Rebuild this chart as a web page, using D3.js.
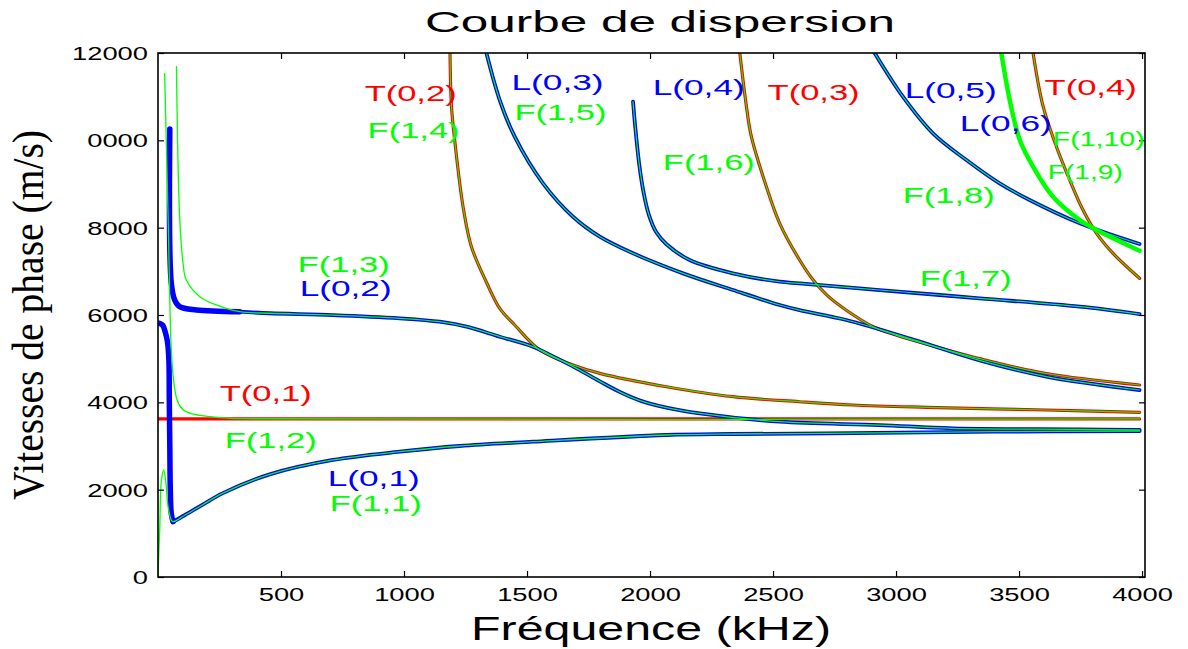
<!DOCTYPE html>
<html>
<head>
<meta charset="utf-8">
<script src="https://cdn.jsdelivr.net/npm/d3@7"></script>
<style>
  body { margin: 0; background: #fff; }
  svg { display: block; }
</style>
</head>
<body>
<svg id="chart"></svg>
<script>
// ---- data (frequency kHz, phase velocity m/s) ----
const xTicks = [500, 1000, 1500, 2000, 2500, 3000, 3500, 4000];
const yTicks = [0, 2000, 4000, 6000, 8000, 10000, 12000];
const yTickLabels = ["0", "2000", "4000", "6000", "8000", "0000", "12000"];

// T(0,1) and F(1,2)
const T01 = [[0, 3620], [3990, 3620]];
const F12 = [[27, 11530], [41, 8270], [54, 5200], [64, 4480], [78, 4050], [100, 3840], [135, 3740], [200, 3680], [270, 3645], [340, 3625], [3990, 3620]];

// L(0,1) and F(1,1)
const L01Low = [[0, 5815], [10, 5800], [20, 5760], [30, 5600], [38, 5400], [44, 5000], [46, 4000], [48, 3000], [50, 2000], [54, 1450], [61, 1266]];
const L01 = [[61, 1266], [110, 1420], [180, 1650], [264, 1920], [454, 2350], [711, 2680], [983, 2870], [1226, 3000], [1524, 3099], [2067, 3252], [2336, 3275], [2717, 3290], [3393, 3327], [3990, 3343]];
const F11Low = [[0, 0], [3, 500], [7, 1080], [14, 2220], [23, 2450], [31, 2220], [41, 1610], [54, 1305], [61, 1266]];

// L(0,2) and F(1,3)
const L02Low = [[48, 10260], [54, 6730], [68, 6340], [88, 6190], [156, 6115], [332, 6075]];
const L02 = [[332, 6075], [454, 6040], [711, 5999], [983, 5924], [1145, 5846], [1254, 5732], [1389, 5503], [1524, 5274], [1610, 5040], [1701, 4779], [1796, 4480], [1880, 4230], [1960, 4040], [2067, 3880], [2202, 3748], [2527, 3556], [2933, 3480], [3230, 3405], [3747, 3382], [3990, 3366]];
const F13Low = [[75, 11690], [88, 8250], [102, 7180], [115, 6800], [170, 6420], [237, 6230], [332, 6075]];

// T(0,2) / F(1,4)
const T02 = [[1187, 12000], [1193, 10770], [1206, 10007], [1240, 8480], [1274, 7564], [1335, 6750], [1389, 6150], [1450, 5771], [1552, 5198], [1687, 4855], [1796, 4664], [2067, 4358], [2337, 4129], [2608, 4014], [2824, 3939], [3124, 3886], [3611, 3824], [3990, 3771]];
// L(0,3) / F(1,5)
const L03 = [[1335, 12000], [1389, 10923], [1450, 10083], [1565, 9015], [1687, 8250], [1796, 7793], [1931, 7412], [2134, 6954], [2337, 6572], [2527, 6228], [2608, 6110], [2798, 5885], [3069, 5440], [3340, 4960], [3611, 4590], [3990, 4282]];
// L(0,4) / F(1,6)
const L04 = [[1931, 10885], [1940, 10300], [1955, 9500], [1972, 8862], [1995, 8300], [2025, 7900], [2067, 7620], [2161, 7259], [2337, 6954], [2527, 6762], [2608, 6725], [2933, 6572], [3340, 6382], [3747, 6190], [3990, 6022]];
// T(0,3)
const T03 = [[2365, 12000], [2392, 10770], [2412, 10083], [2473, 8938], [2527, 8100], [2608, 7259], [2663, 6801], [2720, 6450], [2798, 6110], [2907, 5732], [3000, 5540], [3069, 5420], [3340, 5000], [3611, 4660], [3990, 4397]];
// L(0,5) / F(1,8)
const L05 = [[2913, 12000], [3028, 10999], [3150, 10160], [3286, 9549], [3421, 9015], [3543, 8633], [3747, 8100], [3990, 7625]];
// F(1,9) / F(1,10)
const F19 = [[3428, 12000], [3462, 10923], [3503, 10007], [3557, 9396], [3638, 8709], [3747, 8175], [3815, 7946], [3990, 7472]];
// T(0,4)
const T04 = [[3557, 12000], [3598, 10770], [3652, 9854], [3706, 9091], [3760, 8404], [3815, 7870], [3882, 7412], [3990, 6840]];

// mode labels (text, anchor frequency, anchor velocity)
const labelNames = ["T(0,2)", "F(1,4)", "L(0,3)", "F(1,5)", "L(0,4)", "F(1,6)", "T(0,3)", "L(0,5)", "L(0,6)", "T(0,4)", "F(1,10)", "F(1,9)", "F(1,8)", "F(1,7)", "F(1,3)", "L(0,2)", "T(0,1)", "F(1,2)", "L(0,1)", "F(1,1)"];
const labelFreq = [840, 852, 1437, 1449, 2011, 2052, 2478, 3035, 3259, 3604, 3637, 3617, 3027, 3096, 568, 576, 251, 271, 690, 698];
const labelVel = [11083, 10236, 11342, 10655, 11227, 9510, 11113, 11152, 10389, 11227, 10046, 9281, 8747, 6840, 7175, 6620, 4207, 3137, 2260, 1688];

// ---- layout ----
const W = 1188, H = 649;
const margin = { top: 53, right: 43, bottom: 72, left: 158 };
const width = W - margin.left - margin.right;
const height = H - margin.top - margin.bottom;

const BLUE = "#0000ff", GREEN = "#00ff00", RED = "#ff0000";
const SANS = "'Liberation Sans', Arial, sans-serif";

const svg = d3.select("#chart").attr("width", W).attr("height", H);
const g = svg.append("g").attr("transform", `translate(${margin.left},${margin.top})`);

const x = d3.scaleLinear().domain([0, 4012]).range([0, width]);
const y = d3.scaleLinear().domain([0, 12000]).range([height, 0]);

g.append("clipPath").attr("id", "plotClip")
  .append("rect").attr("width", width).attr("height", height);

const line = d3.line()
  .x(d => x(d[0]))
  .y(d => y(d[1]))
  .curve(d3.curveCatmullRom.alpha(0.5));

const curves = g.append("g").attr("clip-path", "url(#plotClip)");

function draw(data, color, w) {
  curves.append("path")
    .datum(data)
    .attr("d", line)
    .attr("fill", "none")
    .attr("stroke", color)
    .attr("stroke-width", w)
    .attr("stroke-linejoin", "round")
    .attr("stroke-linecap", "round");
}

// red torsional modes
[T01, T02, T03, T04].forEach(d => draw(d, RED, 3.2));
// blue longitudinal modes
[L01, L02, L03, L04, L05].forEach(d => draw(d, BLUE, 3.8));
draw(L01Low, BLUE, 5.5);
draw(L02Low, BLUE, 5.5);
// green flexural modes
draw(F19, GREEN, 4.5);
draw(F12, GREEN, 1.3);
draw(F11Low.concat(L01.slice(1)), GREEN, 1.3);
draw(F13Low.concat(L02.slice(1)), GREEN, 1.3);
[T02, T03, T04, L03, L04, L05].forEach(d => draw(d, GREEN, 1.2));

// ---- axes ----
const gx = g.append("g")
  .attr("transform", `translate(0,${height})`)
  .call(d3.axisBottom(x).tickValues(xTicks).tickFormat(d3.format("d")).tickSizeInner(-6).tickSizeOuter(0));
gx.select(".domain").remove();
gx.selectAll("text")
  .attr("y", 24).attr("dy", 0)
  .attr("font-family", SANS).attr("font-size", 18.5).attr("fill", "#000")
  .attr("textLength", d => String(d).length * 15.2)
  .attr("lengthAdjust", "spacingAndGlyphs");

const gy = g.append("g")
  .call(d3.axisLeft(y).tickValues(yTicks).tickFormat((d, i) => yTickLabels[i]).tickSizeInner(-6).tickSizeOuter(0));
gy.select(".domain").remove();
gy.selectAll("text")
  .attr("x", -10).attr("dy", "0.35em")
  .attr("font-family", SANS).attr("font-size", 18.5).attr("fill", "#000")
  .attr("textLength", (d, i) => yTickLabels[i].length * 15.2)
  .attr("lengthAdjust", "spacingAndGlyphs");

const gt = g.append("g")
  .call(d3.axisTop(x).tickValues(xTicks).tickFormat("").tickSizeInner(-6).tickSizeOuter(0));
gt.select(".domain").remove();
const gr = g.append("g")
  .attr("transform", `translate(${width},0)`)
  .call(d3.axisRight(y).tickValues(yTicks).tickFormat("").tickSizeInner(-6).tickSizeOuter(0));
gr.select(".domain").remove();
g.selectAll(".tick line").attr("stroke", "#000").attr("stroke-width", 1.2);

g.append("rect")
  .attr("width", width).attr("height", height)
  .attr("fill", "none").attr("stroke", "#000").attr("stroke-width", 1.6);

// ---- mode labels ----
const labelColor = n => n[0] === "T" ? RED : n[0] === "L" ? BLUE : GREEN;
const small = n => n === "F(1,10)" || n === "F(1,9)";
g.append("g").selectAll("text")
  .data(labelNames)
  .join("text")
  .attr("x", (d, i) => x(labelFreq[i]))
  .attr("y", (d, i) => y(labelVel[i]))
  .attr("dy", "0.36em")
  .attr("font-family", SANS)
  .attr("font-size", d => small(d) ? 20.5 : 22.5)
  .attr("fill", d => labelColor(d))
  .attr("textLength", d => d === "F(1,9)" ? 75 : 92)
  .attr("lengthAdjust", "spacingAndGlyphs")
  .text(d => d);

// ---- titles ----
svg.append("text")
  .attr("x", 660).attr("y", 32)
  .attr("text-anchor", "middle")
  .attr("font-family", SANS).attr("font-size", 30)
  .attr("textLength", 470).attr("lengthAdjust", "spacingAndGlyphs")
  .text("Courbe de dispersion");

svg.append("text")
  .attr("x", 651).attr("y", 640)
  .attr("text-anchor", "middle")
  .attr("font-family", SANS).attr("font-size", 34)
  .attr("textLength", 360).attr("lengthAdjust", "spacingAndGlyphs")
  .text("Fréquence (kHz)");

svg.append("text")
  .attr("transform", "translate(43,315) rotate(-90) scale(1,1.12)")
  .attr("text-anchor", "middle")
  .attr("font-family", "'Liberation Serif', 'Times New Roman', serif").attr("font-size", 40)
  .attr("textLength", 370).attr("lengthAdjust", "spacingAndGlyphs")
  .text("Vitesses de phase (m/s)");
</script>
</body>
</html>
